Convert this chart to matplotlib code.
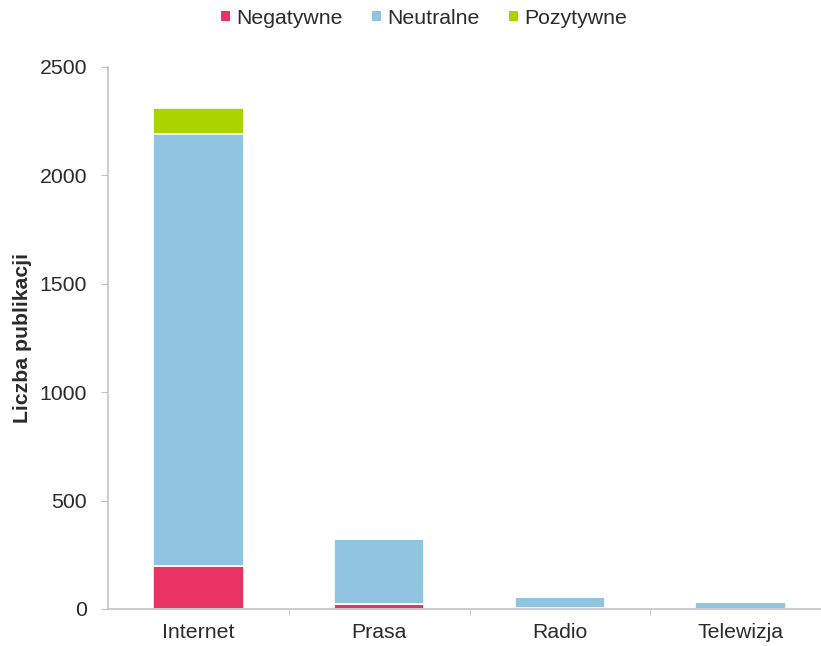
import matplotlib
matplotlib.use("Agg")
import matplotlib.pyplot as plt
import numpy as np

plt.rcParams['font.family'] = ['Liberation Sans', 'DejaVu Sans']

categories = ["Internet", "Prasa", "Radio", "Telewizja"]
negatywne = [198, 25, 5, 1]
neutralne = [1993, 298, 51, 33]
pozytywne = [120, 0, 0, 0]

series_names = ["Negatywne", "Neutralne", "Pozytywne"]
colors = ["#E83363", "#90C4E0", "#AAD400"]

W, H = 821, 646
fig = plt.figure(figsize=(W / 100, H / 100), dpi=100)
left, right = 108, 831
bottom, top = 609, 67
ax = fig.add_axes([left / W, 1 - bottom / H, (right - left) / W, (bottom - top) / H])

x = np.arange(len(categories))
base = np.zeros(len(categories))
for name, vals, c in zip(series_names, [negatywne, neutralne, pozytywne], colors):
    vals = np.array(vals, dtype=float)
    ax.bar(x, vals, bottom=base, width=0.5, color=c, edgecolor="white",
           linewidth=1.2, label=name, zorder=2)
    base += vals

axis_color = "#C0C4C8"
text_color = "#2B2B2B"
fs = 15.3
ax.set_xlim(-0.5, 3.5)
ax.set_ylim(0, 2500)
ax.set_yticks([0, 500, 1000, 1500, 2000, 2500])
ax.set_xticks(x)
ax.set_xticklabels(categories)
ax.set_xticks([0.5, 1.5, 2.5], minor=True)
ax.tick_params(axis="x", which="major", length=0, pad=10, labelsize=fs, labelcolor=text_color)
ax.tick_params(axis="x", which="minor", length=4.5, color=axis_color, direction="out")
ax.tick_params(axis="y", length=5, color=axis_color, labelsize=fs, labelcolor=text_color, pad=10)
for s in ["top", "right"]:
    ax.spines[s].set_visible(False)
for s in ["left", "bottom"]:
    ax.spines[s].set_color(axis_color)
    ax.spines[s].set_linewidth(1.2)

fig.text(22 / W, 1 - 338 / H, "Liczba publikacji", rotation=90, fontsize=fs,
         fontweight="bold", color=text_color, ha="center", va="center")

# legend swatches: plain squares without the white bar edge
legend_handles = [plt.Rectangle((0, 0), 1, 1, facecolor=c, edgecolor="none") for c in colors]
fig.legend(legend_handles, series_names, loc="center", bbox_to_anchor=(424 / W, 1 - 18 / H), ncol=3,
           frameon=False, fontsize=fs, handlelength=0.4, handleheight=0.4,
           handletextpad=0.3, columnspacing=1.4, labelcolor=text_color)

fig.savefig("out.png", dpi=100)
